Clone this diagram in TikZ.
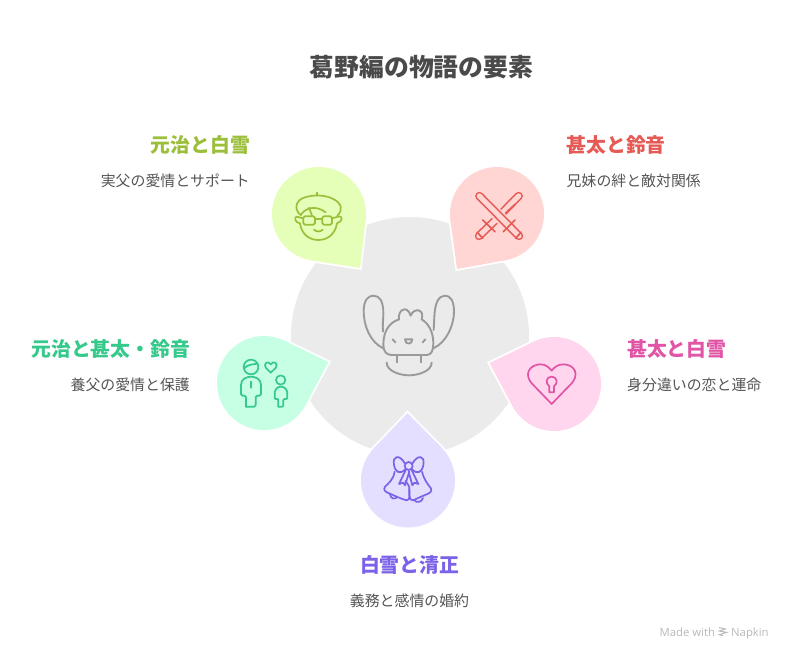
\documentclass[tikz,border=0pt]{standalone}
\usepackage{fontspec}
\setmainfont{Noto Sans CJK JP}
\newfontfamily\latinfont{Open Sans}
\definecolor{limeF}{HTML}{E6FFB8}\definecolor{limeS}{HTML}{9BBF3B}
\definecolor{redF}{HTML}{FFD6D3}\definecolor{redS}{HTML}{E65A55}
\definecolor{pinkF}{HTML}{FFD6EE}\definecolor{pinkS}{HTML}{E155A6}
\definecolor{violetF}{HTML}{E4DEFF}\definecolor{violetS}{HTML}{7C62E8}
\definecolor{mintF}{HTML}{C6FFE3}\definecolor{mintS}{HTML}{35C98B}
\definecolor{hubF}{HTML}{EBEBEB}\definecolor{hubS}{HTML}{9A9A9A}
\definecolor{titleC}{HTML}{4A4A4A}\definecolor{bodyC}{HTML}{555555}\definecolor{markC}{HTML}{B9B9B9}
\newcommand{\petal}[5]{%
  \pgfmathsetmacro{\pa}{atan2(#4-#2,#3-#1)}%
  \pgfmathsetmacro{\pd}{sqrt((#3-#1)*(#3-#1)+(#4-#2)*(#4-#2))}%
  \pgfmathsetmacro{\pb}{acos(47/\pd)}%
  \pgfmathsetmacro{\ux}{#1+47*cos(\pa+\pb)}\pgfmathsetmacro{\uy}{#2+47*sin(\pa+\pb)}%
  \pgfmathsetmacro{\vx}{#1+47*cos(\pa-\pb)}\pgfmathsetmacro{\vy}{#2+47*sin(\pa-\pb)}%
  \draw[white,line width=3.6pt,line join=miter,miter limit=10] (#3,#4) -- (\ux,\uy) -- (#1,#2) -- (\vx,\vy) -- cycle;
  \draw[white,line width=3.6pt] (#1,#2) circle[radius=47pt];
  \fill[#5] (#1,#2) circle[radius=47pt];
  \fill[#5] (#3,#4) -- (\ux,\uy) -- (#1,#2) -- (\vx,\vy) -- cycle;
}
\tikzset{
  titletext/.style={font=\fontsize{24.8}{28}\selectfont\bfseries,text=titleC,inner sep=0pt},
  headtext/.style={font=\fontsize{19.8}{24}\selectfont\bfseries,inner sep=0pt},
  desctext/.style={font=\fontsize{14.9}{18}\selectfont,text=bodyC,inner sep=0pt},
  marktext/.style={font=\latinfont\fontsize{11.3}{14}\selectfont,text=markC,inner sep=0pt},
  icon/.style={line width=1.7pt,line cap=round,line join=round},
}
\begin{document}
\begin{tikzpicture}[x=1pt,y=-1pt]
\useasboundingbox (0,0) rectangle (792,661);
\fill[white] (0,0) rectangle (792,661);
\fill[hubF] (410,336) circle[radius=119pt];

\petal{319}{214}{360}{268}{limeF}
\petal{497}{214}{457}{269}{redF}
\petal{554}{384}{489.5}{363}{pinkF}
\petal{408}{480.5}{407.5}{413}{violetF}
\petal{264}{383}{328.5}{362}{mintF}

% glasses boy
\begin{scope}[shift={(260,155)},scale=1/3,icon,draw=limeS]
\draw (120,205) .. controls (125,240) and (150,255) .. (175,255) .. controls (200,255) and (225,240) .. (231,205);
\draw (122,180) .. controls (102,165) and (105,135) .. (135,127) .. controls (160,119) and (195,119) .. (220,132) .. controls (245,145) and (250,165) .. (232,182);
\draw (172,113) -- (172,122);
\draw (122,180) .. controls (135,160) and (165,148) .. (197,172);
\draw (147,158) -- (156,182);
\draw[rounded corners=1.5pt] (130,184) rectangle (165,209);
\draw[rounded corners=1.5pt] (187,184) rectangle (216,209);
\draw (165,192) -- (187,192);
\draw (130,190) -- (110,185) .. controls (103,185) and (103,203) .. (120,205);
\draw (216,190) -- (238,184) .. controls (248,184) and (248,200) .. (232,204);
\draw (162,224) .. controls (168,231) and (182,231) .. (188,224);
\end{scope}

% crossed staves
\begin{scope}[shift={(440,155)},scale=1/3,line cap=round]
\draw[redS,line width=8.4pt] (236,123) -- (190,170);
\draw[redF,line width=5.2pt] (236,123) -- (190,170);
\draw[redS,line width=8.4pt] (172,190) -- (117,243);
\draw[redF,line width=5.2pt] (172,190) -- (117,243);
\draw[redF,line width=12pt,line cap=butt] (150,157) -- (205,212);
\draw[redS,line width=8.4pt] (118,123) -- (237,243);
\draw[redF,line width=5.2pt] (118,123) -- (237,243);
\begin{scope}[icon,draw=redS]
\draw (128,195) -- (165,230);
\draw (225,195) -- (190,230);
\draw (112,232) -- (128,250);
\draw (243,232) -- (227,250);
\draw (197,174) -- (225,148);
\end{scope}
\end{scope}

% heart and keyhole
\begin{scope}[shift={(480,325)},scale=1/3,icon,draw=pinkS]
\draw (215,237) -- (160,180) .. controls (128,150) and (148,118) .. (182,118) .. controls (197,118) and (207,127) .. (215,137) .. controls (223,127) and (233,118) .. (250,118) .. controls (284,118) and (302,150) .. (270,180) -- cycle;
\draw (208,184) .. controls (195,175) and (198,155) .. (215,155) .. controls (232,155) and (235,175) .. (222,184) -- (222,202) -- (208,202) -- cycle;
\end{scope}

% bells
\begin{scope}[shift={(350,405)},scale=1/3,icon,draw=violetS]
\draw (176,183) circle[radius=12pt];
\draw (165,176) .. controls (150,148) and (126,150) .. (132,180) .. controls (136,202) and (150,210) .. (167,192);
\draw (187,176) .. controls (202,148) and (226,150) .. (220,180) .. controls (216,202) and (202,210) .. (185,192);
\draw (168,193) -- (147,237) -- (160,233) -- (165,241) -- (178,200);
\draw (184,193) -- (205,237) -- (193,233) -- (187,241) -- (176,200);
\draw (134,200) .. controls (130,225) and (115,235) .. (105,245) .. controls (98,256) and (108,262) .. (120,266) .. controls (140,275) and (155,282) .. (170,286) .. controls (184,286) and (175,265) .. (178,252) .. controls (180,245) and (172,235) .. (166,228);
\draw (216,200) .. controls (222,225) and (235,240) .. (243,250) .. controls (248,262) and (235,266) .. (225,270) .. controls (210,276) and (195,284) .. (188,286) .. controls (175,286) and (180,265) .. (178,252);
\draw (120,268) .. controls (122,282) and (135,284) .. (142,276);
\draw (192,285) .. controls (200,295) and (215,292) .. (219,279);
\end{scope}

% adult and child
\begin{scope}[shift={(210,325)},scale=1/3,icon,draw=mintS]
\draw (123,126) circle[radius=22pt];
\draw (103,130) .. controls (112,118) and (130,118) .. (143,116);
\draw[rounded corners=1.5pt] (108,245) -- (108,212) -- (93,212) -- (93,180);
\draw (93,180) .. controls (93,163) and (108,155) .. (123,155) .. controls (138,155) and (153,163) .. (153,180);
\draw[rounded corners=1.5pt] (153,180) -- (153,212) -- (137,212) -- (137,245) -- (108,245);
\draw (123,170) -- (123,188);
\draw (212,165) circle[radius=14pt];
\draw[rounded corners=1pt] (205,245) -- (205,222) -- (194,222) -- (194,205);
\draw (194,205) .. controls (194,192) and (204,185) .. (212,185) .. controls (222,185) and (232,192) .. (232,205);
\draw[rounded corners=1pt] (232,205) -- (232,222) -- (220,222) -- (220,245) -- (205,245);
\draw (182,143) -- (168,129) .. controls (158,115) and (175,105) .. (182,118) .. controls (190,105) and (207,115) .. (197,129) -- cycle;
\end{scope}

% central figure
\begin{scope}[shift={(350,285)},scale=1/3,line width=1.9pt,line cap=round,line join=round,draw=hubS]
\draw (100,190) .. controls (60,172) and (40,120) .. (41,75) .. controls (42,45) and (55,32) .. (70,32) .. controls (90,32) and (100,50) .. (100,85) .. controls (100,105) and (97,120) .. (99,140);
\draw (250,190) .. controls (290,172) and (312,120) .. (312,80) .. controls (312,45) and (300,32) .. (285,32) .. controls (265,32) and (255,55) .. (253,95) .. controls (252,110) and (252,120) .. (251,135);
\draw (147,103) .. controls (120,112) and (100,135) .. (100,180) .. controls (100,200) and (110,210) .. (125,210) -- (230,210) .. controls (245,210) and (250,195) .. (250,175) .. controls (250,140) and (235,115) .. (215,103);
\draw (147,103) .. controls (142,75) and (172,58) .. (182,92) .. controls (190,68) and (225,70) .. (215,103);
\draw (140,212) -- (140,232);
\draw (213,212) -- (213,232);
\draw (110,233) .. controls (110,258) and (150,271) .. (177,271) .. controls (205,271) and (245,258) .. (245,233);
\draw (128,163) -- (136,172);
\draw (226,163) -- (218,172);
\draw (165,163) -- (187,163) .. controls (187,180) and (165,180) .. (165,163) -- cycle;
\end{scope}

\node[titletext] (title) at (421.5,67) {葛野編の物語の要素};

\node[headtext,text=limeS,anchor=east] (h1) at (250,145) {元治と白雪};
\node[desctext,anchor=east] (d1) at (250,181) {実父の愛情とサポート};
\node[headtext,text=redS,anchor=west] (h2) at (566.5,145) {甚太と鈴音};
\node[desctext,anchor=west] (d2) at (566.5,181) {兄妹の絆と敵対関係};
\node[headtext,text=pinkS,anchor=west] (h3) at (627,349) {甚太と白雪};
\node[desctext,anchor=west] (d3) at (627,385) {身分違いの恋と運命};
\node[headtext,text=violetS] (h4) at (409.5,565) {白雪と清正};
\node[desctext] (d4) at (409.5,601) {義務と感情の婚約};
\node[headtext,text=mintS,anchor=east] (h5) at (190,349) {元治と甚太・鈴音};
\node[desctext,anchor=east] (d5) at (190,385) {養父の愛情と保護};

\node[marktext,anchor=base west] (m1) at (659.5,636) {Made with};
\node[marktext,anchor=base west] (m2) at (731,636) {Napkin};
\begin{scope}[shift={(650,620)},scale=1/3,line width=1pt,draw=markC,line cap=round]
\draw (208,23) -- (226,27) -- (208,33) -- (230,37) -- (208,44) -- (218,47);
\end{scope}
\end{tikzpicture}
\end{document}
